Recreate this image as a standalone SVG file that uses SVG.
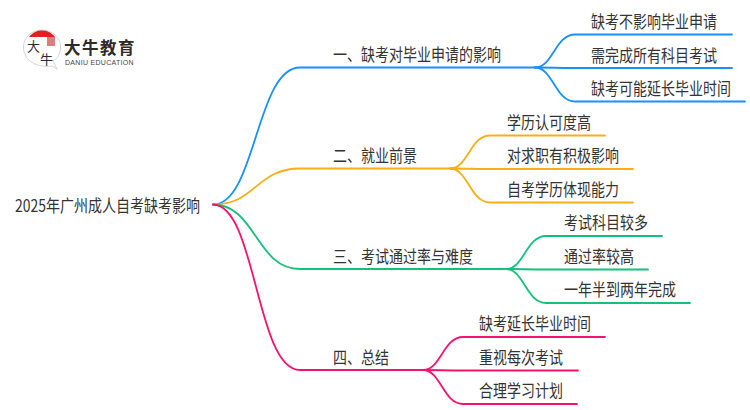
<svg xmlns="http://www.w3.org/2000/svg" width="750" height="410" viewBox="0 0 750 410">
<style>
text{font-family:"Noto Sans CJK SC","Noto Sans",sans-serif;font-size:17px;fill:#333}
.t{transform-box:fill-box;transform-origin:0 0;transform:scaleX(.824)}
path{fill:none;stroke-linecap:round}
.l{stroke-width:1.800}
.b{stroke:#1890ff}.o{stroke:#faad14}.g{stroke:#13c27a}.p{stroke:#f5136f}
</style>
<rect width="750" height="410" fill="#fff"/>
<g id="logo">
<path d="M52 66C46 67 38 66 33 63C26 59 23.500 53 23.500 47C23.500 37 32 30 42 30C52 30 60.500 37 60.500 47C60.500 53 58 58 53 61L57 69Z" style="fill:#fff;stroke:#c9c9c9;stroke-width:.8"/>
<path d="M29 37C33 32 37 30.500 42 30.500C47 30.500 51 32 55 37Z" style="fill:#e01f26"/>
<rect x="47" y="37" width="8" height="9" fill="#c8242c" opacity=".6"/>
<text x="27" y="51" style="font-size:13px;fill:#2b2b2b">大</text>
<text x="40" y="64" style="font-size:13px;fill:#2b2b2b">牛</text>
<text x="64" y="54" style="font-size:16.500px;font-weight:700;fill:#2f2a2a;letter-spacing:1.500px">大牛教育</text>
<text x="65" y="65" style="font-size:7px;font-family:'Liberation Sans',sans-serif;fill:#444;letter-spacing:.3px">DANIU EDUCATION</text>
</g>
<g id="connectors">
<path class="l b" d="M213 204.500C256 204.500 256 67.500 300 67.500H535"/>
<path class="l o" d="M213 204.500C256 204.500 256 168.500 300 168.500H450"/>
<path class="l g" d="M213 204.500C256 204.500 256 269 300 269H506"/>
<path class="l p" d="M213 204.500C256 204.500 256 370 300 370H423"/>
<path class="l b" d="M535 67.500C553 67.500 555 34.500 575 34.500H732"/>
<path class="l b" d="M535 67.500C553 67.500 555 68 575 68H732"/>
<path class="l b" d="M535 67.500C553 67.500 555 101.500 575 101.500H745"/>
<path class="l o" d="M450 168.500C468 168.500 470 135.500 490 135.500H605"/>
<path class="l o" d="M450 168.500C468 168.500 470 169 490 169H633"/>
<path class="l o" d="M450 168.500C468 168.500 470 202.500 490 202.500H633"/>
<path class="l g" d="M506 269C524 269 526 236 546 236H662"/>
<path class="l g" d="M506 269C524 269 526 269.500 546 269.500H648"/>
<path class="l g" d="M506 269C524 269 526 303 546 303H690"/>
<path class="l p" d="M423 370C441 370 443 337 463 337H605"/>
<path class="l p" d="M423 370C441 370 443 370.500 463 370.500H578"/>
<path class="l p" d="M423 370C441 370 443 404 463 404H577"/>
</g>
<g id="root"><text class="t" x="15" y="212">2025年广州成人自考缺考影响</text></g>
<g id="n1"><text class="t" x="333" y="61">一、缺考对毕业申请的影响</text></g>
<g id="n2"><text class="t" x="333" y="162">二、就业前景</text></g>
<g id="n3"><text class="t" x="333" y="263">三、考试通过率与难度</text></g>
<g id="n4"><text class="t" x="333" y="364">四、总结</text></g>
<g id="n11"><text class="t" x="591" y="28">缺考不影响毕业申请</text></g>
<g id="n12"><text class="t" x="591" y="62">需完成所有科目考试</text></g>
<g id="n13"><text class="t" x="591" y="95">缺考可能延长毕业时间</text></g>
<g id="n21"><text class="t" x="507" y="129">学历认可度高</text></g>
<g id="n22"><text class="t" x="507" y="162">对求职有积极影响</text></g>
<g id="n23"><text class="t" x="507" y="196">自考学历体现能力</text></g>
<g id="n31"><text class="t" x="564" y="229">考试科目较多</text></g>
<g id="n32"><text class="t" x="564" y="263">通过率较高</text></g>
<g id="n33"><text class="t" x="564" y="296">一年半到两年完成</text></g>
<g id="n41"><text class="t" x="479" y="330">缺考延长毕业时间</text></g>
<g id="n42"><text class="t" x="479" y="364">重视每次考试</text></g>
<g id="n43"><text class="t" x="479" y="397">合理学习计划</text></g>
</svg>
